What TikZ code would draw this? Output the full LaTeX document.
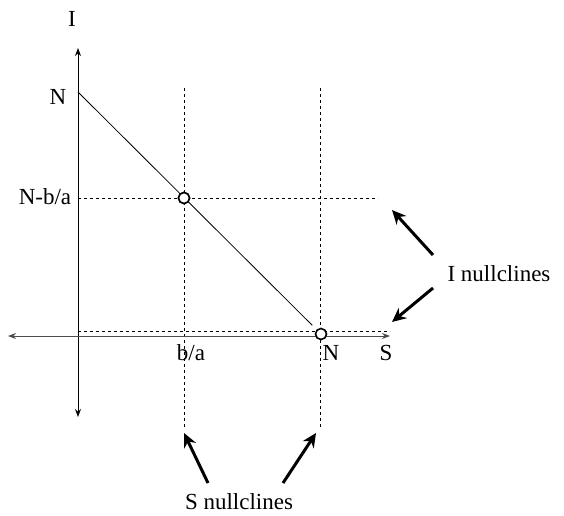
\documentclass[tikz,border=0pt]{standalone}
\usepackage{fontspec}
\setmainfont{Liberation Serif}
\usetikzlibrary{arrows.meta}
\begin{document}
\begin{tikzpicture}[x=1pt,y=-1pt,
  axisline/.style={line width=1pt, {Stealth[length=8pt,width=6pt]}-{Stealth[length=8pt,width=6pt]}},
  nullc/.style={dash pattern=on 3pt off 3pt, line width=0.9pt},
  eqpt/.style={circle, draw, line width=1.6pt, fill=white, minimum size=11pt, inner sep=0pt},
  lbl/.style={font=\fontsize{23}{27}\selectfont, inner sep=0pt},
  bigarrow/.style={line width=3pt, -{Stealth[length=14pt,width=13pt]}}]
\useasboundingbox (0,0) rectangle (564,515);
% axis ends
\coordinate (ytop) at (78,48);
\coordinate (ybot) at (78,417);
\coordinate (xleft) at (8,336);
\coordinate (xright) at (390,336);
\coordinate (Ny) at (78,92);
% nullcline ends
\coordinate (s1t) at (184,88);
\coordinate (s1b) at (184,428);
\coordinate (s2t) at (320,88);
\coordinate (s2b) at (320,428);
\coordinate (i1l) at (78,198);
\coordinate (i1r) at (378,198);
\coordinate (i2l) at (78,331);
\coordinate (i2r) at (390,331);
% dashed nullclines
\draw[nullc] (s1t) -- (s1b);
\draw[nullc] (s2t) -- (s2b);
\draw[nullc] (i1l) -- (i1r);
\draw[nullc] (i2l) -- (i2r);
% axes
\draw[axisline] (ybot) -- (ytop);
\draw[axisline, draw=black!70, fill=black!70] (xleft) -- (xright);
% equilibria
\node[eqpt] (p1) at (184,198) {};
\node[eqpt] (p2) at (321,334) {};
\draw[line width=0.8pt, shorten >=6pt] (Ny) -- (p2);
\node[eqpt] at (p1) {};
% labels
\node[lbl] (lI) at (72,19) {I};
\node[lbl] (lN) at (58,97) {N};
\node[lbl] (lNba) at (45,197) {N-b/a};
\node[lbl] (lba) at (191,353) {b/a};
\node[lbl] (lN2) at (331,353) {N};
\node[lbl] (lS) at (386,353) {S};
\node[lbl] (lInull) at (499,274) {I nullclines};
\node[lbl] (lSnull) at (239,502) {S nullclines};
% pointer arrows
\coordinate (a1s) at (433,255);
\coordinate (a1e) at (392,210);
\coordinate (a2s) at (433,288);
\coordinate (a2e) at (392,322);
\coordinate (a3s) at (208,483);
\coordinate (a3e) at (184,433);
\coordinate (a4s) at (283,483);
\coordinate (a4e) at (316,433);
\draw[bigarrow] (a1s) -- (a1e);
\draw[bigarrow] (a2s) -- (a2e);
\draw[bigarrow] (a3s) -- (a3e);
\draw[bigarrow] (a4s) -- (a4e);
\end{tikzpicture}
\end{document}
